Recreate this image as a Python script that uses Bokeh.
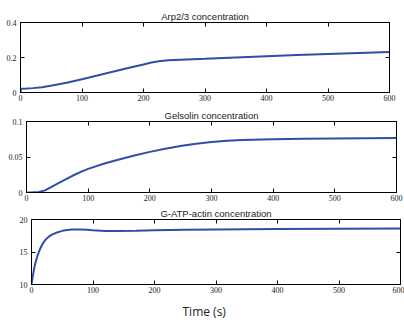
from bokeh.plotting import figure
from bokeh.layouts import column
from bokeh.models import LinearAxis, FixedTicker, CustomJSTickFormatter, Range1d, Title
from bokeh.embed import file_html
from bokeh.resources import INLINE

# ---- data ----
arp_t = [0, 1, 10, 20, 35, 51, 75, 100, 125, 150, 175, 200, 213, 225, 240, 270, 300, 350, 400, 450, 500, 550, 600]
arp_v = [0.0, 0.022, 0.023, 0.025, 0.030, 0.040, 0.056, 0.076, 0.097, 0.119, 0.140, 0.160, 0.171, 0.178, 0.184, 0.189, 0.193, 0.200, 0.207, 0.214, 0.220, 0.226, 0.232]

gel_t = [0, 10, 20, 30, 40, 51, 65, 78, 90, 100, 125, 150, 175, 200, 225, 252, 275, 300, 325, 350, 400, 450, 500, 550, 600]
gel_v = [0.0, 0.0002, 0.0006, 0.003, 0.0075, 0.0127, 0.0192, 0.025, 0.0297, 0.0333, 0.0405, 0.0465, 0.0522, 0.0572, 0.0617, 0.0658, 0.0688, 0.0712, 0.0728, 0.0739, 0.0751, 0.0758, 0.0762, 0.0764, 0.0766]

act_t = [0, 2, 4, 6, 9, 12, 15, 19, 23, 28, 34, 40, 45, 50, 55, 66, 80, 90, 100, 120, 142, 170, 200, 250, 300, 400, 500, 600]
act_v = [10.0, 11.2, 12.3, 13.2, 14.2, 15.0, 15.7, 16.4, 16.9, 17.35, 17.7, 17.95, 18.1, 18.25, 18.35, 18.45, 18.48, 18.44, 18.36, 18.24, 18.22, 18.28, 18.35, 18.42, 18.48, 18.55, 18.58, 18.6]

x_ticks = [0, 100, 200, 300, 400, 500, 600]
panels = [
    dict(title="Arp2/3 concentration", t=arp_t, v=arp_v, yr=(0, 0.4), yt=[0, 0.2, 0.4],
         h=104, bl=20, br=15, bt=22, bb=12),
    dict(title="Gelsolin concentration", t=gel_t, v=gel_v, yr=(0, 0.1), yt=[0, 0.05, 0.1],
         h=99, bl=26, br=8, bt=17, bb=11),
    dict(title="G-ATP-actin concentration", t=act_t, v=act_v, yr=(10, 20), yt=[10, 15, 20],
         h=121, bl=31, br=4, bt=16, bb=33),
]

FONT = "Liberation Sans Narrow"
fmt = CustomJSTickFormatter(code="return tick.toString();")
blank = CustomJSTickFormatter(code="return '';")

def style_axis(ax, ticks, labels=True, standoff=3):
    ax.ticker = FixedTicker(ticks=ticks)
    ax.formatter = fmt if labels else blank
    ax.major_tick_in = 4
    ax.major_tick_out = 0
    ax.minor_tick_in = 0
    ax.minor_tick_out = 0
    ax.axis_line_color = "black"
    ax.major_tick_line_color = "black"
    ax.major_label_text_font = FONT
    ax.major_label_text_font_size = "8px"
    ax.major_label_text_color = "#222222"
    ax.major_label_standoff = standoff if labels else 0

figs = []
for i, P in enumerate(panels):
    p = figure(width=404, height=P["h"], output_backend="svg", toolbar_location=None,
               x_range=Range1d(0, 600), y_range=Range1d(*P["yr"]),
               min_border_left=P["bl"], min_border_right=P["br"],
               min_border_top=P["bt"], min_border_bottom=P["bb"],
               x_axis_location=None, y_axis_location=None)
    p.title.text = P["title"]
    p.title.align = "center"
    p.title.text_font = "Liberation Sans"
    p.title.text_font_size = "9.5px"
    p.title.text_font_style = "normal"
    p.title.text_color = "#222222"
    p.title.standoff = 1
    p.xgrid.visible = False
    p.ygrid.visible = False
    p.outline_line_color = "black"
    p.outline_line_width = 1
    p.background_fill_color = "white"
    p.border_fill_color = "white"

    xb = LinearAxis(); style_axis(xb, x_ticks, True, 2); p.add_layout(xb, "below")
    xa = LinearAxis(); style_axis(xa, x_ticks, False); p.add_layout(xa, "above")
    yl = LinearAxis(); style_axis(yl, P["yt"], True, 4); p.add_layout(yl, "left")
    yr = LinearAxis(); style_axis(yr, P["yt"], False); p.add_layout(yr, "right")

    p.line(P["t"], P["v"], line_color="#2f4fa6", line_width=2)

    if i == 2:
        lab = Title(text="Time (s)", align="left", offset=151, text_font="Open Sans",
                    text_font_size="12px", text_font_style="normal", text_color="#222222")
        p.add_layout(lab, "below")
    figs.append(column(p, spacing=0))

layout = column(*figs, spacing=0)
open("out.html", "w").write(file_html(layout, INLINE))
